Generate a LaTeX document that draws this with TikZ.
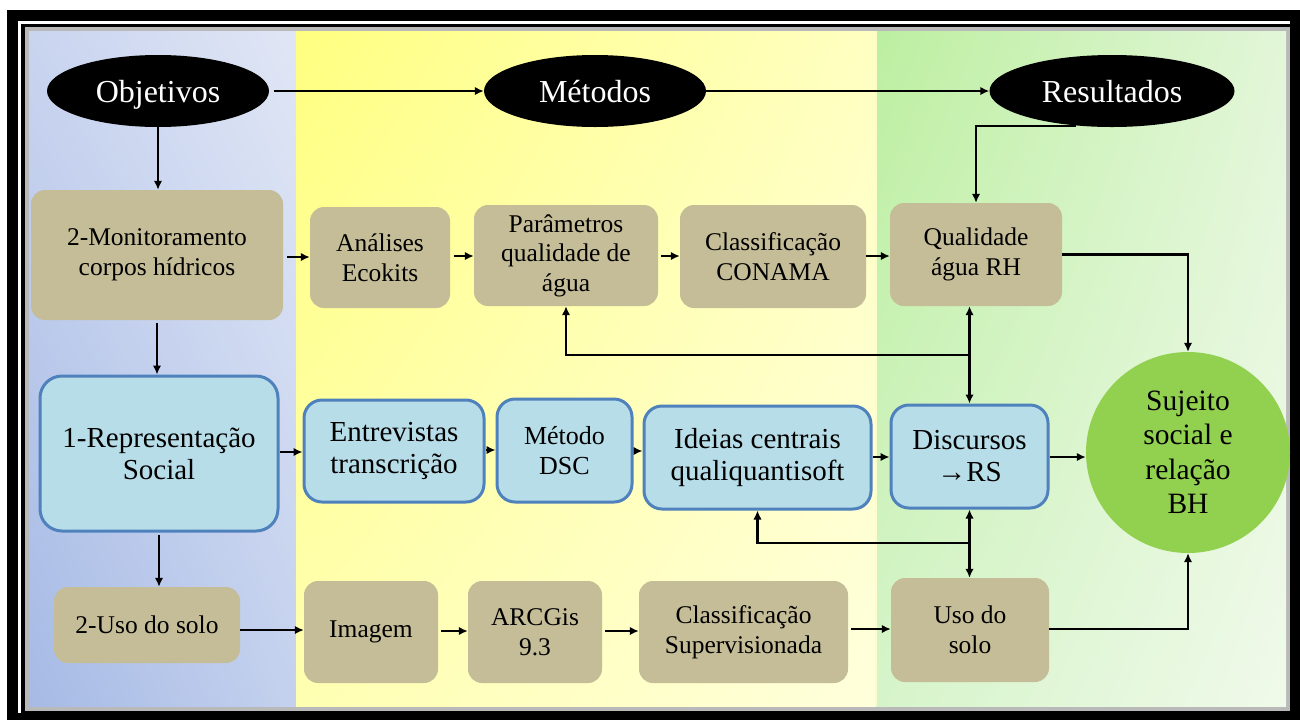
\documentclass[tikz,border=0pt]{standalone}
\usepackage{fontspec}
\setmainfont{Liberation Serif}
\usetikzlibrary{shapes.geometric,arrows.meta,calc,shadings}
\definecolor{tanc}{HTML}{C4BD97}
\definecolor{bfill}{HTML}{B7DDE8}
\definecolor{bdraw}{HTML}{4F81BD}
\definecolor{gcirc}{HTML}{92D050}
\definecolor{bUL}{HTML}{C9D4EF}
\definecolor{bUR}{HTML}{E0E6F5}
\definecolor{bLL}{HTML}{A6BAE5}
\definecolor{bLR}{HTML}{C4D1EE}
\definecolor{yUL}{HTML}{FFFF80}
\definecolor{yUR}{HTML}{FFFFC2}
\definecolor{yLL}{HTML}{FFFFB2}
\definecolor{yLR}{HTML}{FFFFDC}
\definecolor{gUL}{HTML}{BCEFA0}
\definecolor{gUR}{HTML}{E2F6D8}
\definecolor{gLL}{HTML}{D6F4CA}
\definecolor{gLR}{HTML}{F0FAEA}
\begin{document}
\begin{tikzpicture}[x=1pt,y=-1pt,
  ell/.style={ellipse, fill=black, text=white, inner sep=0pt,
    minimum height=72pt, text height=29pt, text depth=7pt,
    font=\fontsize{32}{36}\selectfont},
  tanbox/.style={rectangle, rounded corners=14pt, fill=tanc, inner sep=0pt,
    align=center, font=\fontsize{25.5}{29.5}\selectfont},
  bluebox/.style={rectangle, rounded corners=18pt, fill=bfill, draw=bdraw,
    line width=3pt, inner sep=0pt, align=center, font=\fontsize{29}{32}\selectfont},
  circ/.style={ellipse, fill=gcirc, inner sep=0pt, align=center,
    font=\fontsize{29.5}{34.5}\selectfont},
  arr/.style={line width=2.3pt, -{Latex[length=9pt,width=8.5pt]}},
  dbl/.style={line width=2.3pt, {Latex[length=9pt,width=8.5pt]}-{Latex[length=9pt,width=8.5pt]}}
]
\useasboundingbox (0,0) rectangle (1300,724);
% frame
\fill[white] (0,0) rectangle (1300,724);
\fill[black] (7,10) rectangle (1300,720);
\fill[white] (18,21) rectangle (1290,713);
\fill[black] (21,24) rectangle (1290,713);
\fill[gray!55] (25,27) rectangle (1290,711);
% column backgrounds
\shade[upper left=bUL, upper right=bUR, lower left=bLL, lower right=bLR] (29,31) rectangle (296,706);
\shade[upper left=yUL, upper right=yUR, lower left=yLL, lower right=yLR] (296,31) rectangle (876,706);
\shade[upper left=gUL, upper right=gUR, lower left=gLL, lower right=gLR] (876,31) rectangle (1286,706);
\draw[white!80!yellow, line width=1.5pt] (876,31) -- (876,706);

% header ellipses
\node[ell, minimum width=222pt] (obj) at (158,91) {Objetivos};
\node[ell, minimum width=222pt] (met) at (595,91) {Métodos};
\node[ell, minimum width=245pt] (res) at (1112,91) {Resultados};

% row 1
\node[tanbox, minimum width=252pt, minimum height=130pt] (mon) at (157,255) {2-Monitoramento\\corpos hídricos};
\node[tanbox, minimum width=140pt, minimum height=101pt] (ana) at (380,257.5) {Análises\\Ecokits};
\node[tanbox, minimum width=184pt, minimum height=101pt] (par) at (566,255.5) {Parâmetros\\qualidade de\\água};
\node[tanbox, minimum width=186pt, minimum height=103pt] (cona) at (773,256.5) {Classificação\\CONAMA};
\node[tanbox, minimum width=172pt, minimum height=103pt] (qual) at (976,254.5) {Qualidade\\água RH};

% row 2
\node[bluebox, rounded corners=22pt, minimum width=238pt, minimum height=155pt] (rep) at (159,453.5) {1-Representação\\Social};
\node[bluebox, minimum width=180pt, minimum height=102pt] (ent) at (394,451) {Entrevistas\\transcrição};
\node[bluebox, minimum width=135pt, minimum height=103pt, font=\fontsize{26}{30}\selectfont] (mdsc) at (564.5,450.5) {Método\\DSC};
\node[bluebox, minimum width=227pt, minimum height=103pt] (ide) at (757.5,457.5) {Ideias centrais\\qualiquantisoft};
\node[bluebox, minimum width=157pt, minimum height=103pt] (disc) at (969.5,456.5) {Discursos\\→RS};
\node[circ, minimum width=204pt, minimum height=201pt] (sbh) at (1188,452.5) {Sujeito\\social e\\relação\\BH};

% row 3
\node[tanbox, minimum width=186pt, minimum height=76pt] (uso2) at (147,625) {2-Uso do solo};
\node[tanbox, minimum width=134pt, minimum height=102pt] (img) at (371,632) {Imagem};
\node[tanbox, minimum width=134pt, minimum height=102pt] (arc) at (535,632) {ARCGis\\9.3};
\node[tanbox, minimum width=209pt, minimum height=102pt] (sup) at (743.5,632) {Classificação\\Supervisionada};
\node[tanbox, minimum width=158pt, minimum height=104pt] (uso) at (970,630) {Uso do\\solo};

% header arrows
\draw[arr, shorten <=5pt] (obj.east) -- (met.west);
\draw[arr] (met.east) -- (res.west);
\draw[arr] (obj.south) -- (obj.south |- mon.north);
\coordinate (rj) at (1076,126);
\draw[arr] (rj) -| (qual.north);

% vertical objectives
\draw[arr, shorten <=3pt] (mon.south) -- (mon.south |- rep.north);
\draw[arr, shorten <=2pt] (rep.south) -- (rep.south |- uso2.north);

% row 1 arrows
\draw[arr, shorten <=4pt] (mon.east |- 0,257) -- (ana.west |- 0,257);
\draw[arr, shorten <=4pt] (ana.east |- 0,256) -- (par.west |- 0,256);
\draw[arr, shorten <=3pt] (par.east |- 0,256) -- (cona.west |- 0,256);
\draw[arr] (cona.east |- 0,256) -- (qual.west |- 0,256);
\draw[arr] (qual.east) -| (sbh.north);

% row 2 arrows
\draw[arr] (rep.east |- 0,452) -- (ent.west |- 0,452);
\draw[arr] (ent.east |- 0,450) -- (mdsc.west |- 0,450);
\draw[arr] (mdsc.east |- 0,451) -- (ide.west |- 0,451);
\draw[arr] (ide.east |- 0,457) -- (disc.west |- 0,457);
\draw[arr] (disc.east |- 0,457) -- (sbh.west |- 0,457);

% cross links
\draw[dbl] (disc.north |- qual.south) -- (disc.north);
\coordinate (j1) at (969.5,355);
\draw[arr] (j1) -| (par.south);
\draw[dbl] (disc.south) -- (disc.south |- uso.north);
\coordinate (j2) at (969.5,543);
\draw[arr] (j2) -| (ide.south);

% row 3 arrows
\draw[arr] (uso2.east |- 0,630) -- (img.west |- 0,630);
\draw[arr, shorten <=3pt] (img.east |- 0,631) -- (arc.west |- 0,631);
\draw[arr, shorten <=3pt] (arc.east |- 0,631) -- (sup.west |- 0,631);
\draw[arr, shorten <=3pt] (sup.east |- 0,629) -- (uso.west |- 0,629);
\draw[arr] (uso.east |- 0,629) -| (sbh.south);
\end{tikzpicture}
\end{document}
